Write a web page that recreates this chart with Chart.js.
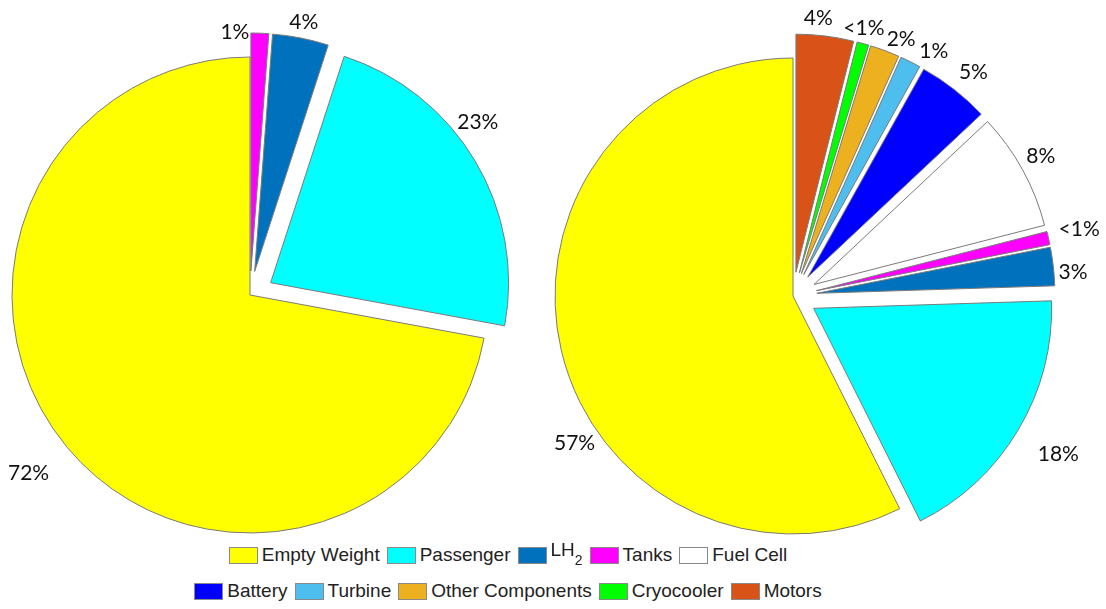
<!DOCTYPE html>
<html>
<head>
<meta charset="utf-8">
<script src="https://cdn.jsdelivr.net/npm/chart.js@4.4.1/dist/chart.umd.min.js"></script>
<style>
  body { margin: 0; background: #fff; width: 1106px; height: 609px; overflow: hidden; position: relative;
         font-family: 'Liberation Sans', Arial, sans-serif; color: #222; }
  canvas { position: absolute; top: 0; }
  .row { position: absolute; left: 0; width: 1016px; height: 20px; display: flex; justify-content: center;
         align-items: center; gap: 7px; font-size: 19px; white-space: nowrap; }
  .item { display: flex; align-items: center; }
  .box { width: 29px; height: 17px; box-sizing: border-box; border: 1px solid #8a8a8a; margin-right: 4px; }
  .lh { position: relative; top: -5px; }
  .lh sub { font-size: 14px; position: relative; top: 9px; vertical-align: baseline; }
</style>
</head>
<body>
<canvas id="leftPie" width="553" height="540" style="left:0"></canvas>
<canvas id="rightPie" width="553" height="540" style="left:553px"></canvas>
<div id="legend"></div>
<script>
// mass breakdown, percent of total
const leftLabels = ['Tanks', 'LH2', 'Passenger', 'Empty Weight'];
const leftShares = [1.2, 3.8, 22.9, 72.1];

const rightLabels = ['Motors', 'Cryocooler', 'Other Components', 'Turbine', 'Battery',
                     'Fuel Cell', 'Tanks', 'LH2', 'Passenger', 'Empty Weight'];
const rightShares = [3.9, 0.8, 2.0, 1.4, 4.9, 8.0, 0.9, 2.6, 18.1, 57.4];

const legendRows = [
  ['Empty Weight', 'Passenger', 'LH2', 'Tanks', 'Fuel Cell'],
  ['Battery', 'Turbine', 'Other Components', 'Cryocooler', 'Motors']
];

const colors = {
  'Empty Weight': '#FFFF00',
  'Passenger': '#00FFFF',
  'LH2': '#0072BD',
  'Tanks': '#FF00FF',
  'Fuel Cell': '#FFFFFF',
  'Battery': '#0000FF',
  'Turbine': '#4DBEEE',
  'Other Components': '#EDB120',
  'Cryocooler': '#00FF00',
  'Motors': '#D95319'
};

// every slice except the empty weight is pulled out from the centre
const pullOut = (chart, i, dist) => chart.data.labels[i] === 'Empty Weight' ? 0 : dist;

const explode = {
  id: 'explode',
  beforeDatasetDraw(chart, args, opts) {
    const ctx = chart.ctx;
    args.meta.data.forEach((arc, i) => {
      const mid = (arc.startAngle + arc.endAngle) / 2;
      const d = pullOut(chart, i, opts.dist);
      ctx.save();
      ctx.translate(Math.cos(mid) * d, Math.sin(mid) * d);
      arc.draw(ctx);
      ctx.restore();
    });
    return false;
  }
};

const pctLabels = {
  id: 'pctLabels',
  afterDatasetsDraw(chart, args, opts) {
    const ctx = chart.ctx;
    const arcs = chart.getDatasetMeta(0).data;
    const vals = chart.data.datasets[0].data;
    const dist = chart.options.plugins.explode.dist;
    ctx.save();
    ctx.font = '21px Lato';
    ctx.fillStyle = '#111';
    ctx.textAlign = 'center';
    ctx.textBaseline = 'middle';
    arcs.forEach((arc, i) => {
      const mid = (arc.startAngle + arc.endAngle) / 2;
      const push = pullOut(chart, i, dist);
      const a = mid + (opts.turn[i] || 0) * Math.PI / 180;
      const txt = vals[i] < 1 ? '<1%' : Math.round(vals[i]) + '%';
      const w = ctx.measureText(txt).width;
      const ext = Math.abs(Math.cos(a)) * w / 2 + Math.abs(Math.sin(a)) * 8;
      const r = arc.outerRadius + opts.gap[i] + ext;
      ctx.fillText(txt,
        arc.x + Math.cos(mid) * push + Math.cos(a) * r,
        arc.y + Math.sin(mid) * push + Math.sin(a) * r);
    });
    ctx.restore();
  }
};

function pieChart(id, labels, shares, pad, turn, gap) {
  return new Chart(document.getElementById(id), {
    type: 'pie',
    data: {
      labels: labels,
      datasets: [{
        data: shares,
        backgroundColor: labels.map(l => colors[l]),
        borderColor: '#7a7a7a',
        borderWidth: 1
      }]
    },
    options: {
      responsive: false,
      animation: false,
      events: [],
      radius: 238,
      layout: { padding: pad },
      plugins: {
        legend: { display: false },
        tooltip: { enabled: false },
        explode: { dist: 24 },
        pctLabels: { turn: turn, gap: gap }
      }
    },
    plugins: [explode, pctLabels]
  });
}

pieChart('leftPie', leftLabels, leftShares,
  { left: 0, right: 53, top: 50, bottom: 0 },
  [-6, 0, -7, 1],
  [-8, 5, 3, 25]);

pieChart('rightPie', rightLabels, rightShares,
  { left: 0, right: 73, top: 52, bottom: 0 },
  [-2, -0.7, 2.5, 3.6, 1, -0.7, -0.4, 1.8, 0, -20.7],
  [8, 2, 4, 6, 10, 6, 10, 4, 25, 4]);

// legend built from the same categories and colours
const legend = document.getElementById('legend');
const rowTops = [545, 581];
legendRows.forEach((names, r) => {
  const row = document.createElement('div');
  row.className = 'row';
  row.style.top = rowTops[r] + 'px';
  names.forEach(name => {
    const item = document.createElement('div');
    item.className = 'item';
    const text = name === 'LH2' ? '<span class="lh">LH<sub>2</sub></span>' : '<span>' + name + '</span>';
    item.innerHTML = '<span class="box" style="background:' + colors[name] + '"></span>' + text;
    row.appendChild(item);
  });
  legend.appendChild(row);
});
</script>
</body>
</html>
